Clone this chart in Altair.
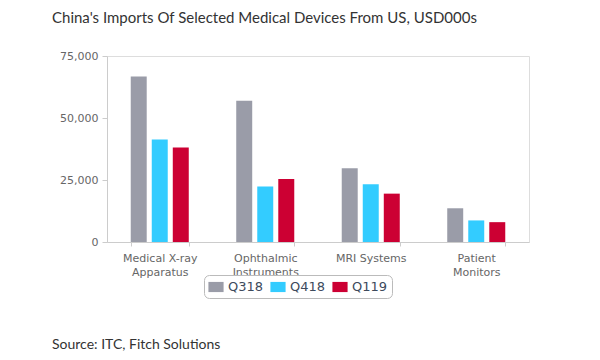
import altair as alt
import pandas as pd

categories = ["Medical X-ray\nApparatus", "Ophthalmic\nInstruments", "MRI Systems", "Patient\nMonitors"]
series = ["Q318", "Q418", "Q119"]
q318 = [66700, 57000, 29700, 13600]
q418 = [41300, 22400, 23300, 8700]
q119 = [38100, 25400, 19500, 8000]
colors = ["#9a9ca8", "#33ccff", "#cc0033"]
y_ticks = [0, 25000, 50000, 75000]

rows = []
for s, vals in zip(series, [q318, q418, q119]):
    for c, v in zip(categories, vals):
        rows.append({"category": c, "series": s, "value": v})
df = pd.DataFrame(rows)

W, H = 422, 186

bars = alt.Chart(df).mark_bar().encode(
    x=alt.X("category:N", sort=categories, title=None,
            scale=alt.Scale(paddingInner=0.45, paddingOuter=0.225),
            axis=alt.Axis(labelAngle=0, labelExpr="split(datum.label, '\\n')",
                          labelFont="DejaVu Sans", labelFontSize=11, labelColor="#666666",
                          labelPadding=6, labelLineHeight=14, tickBand="extent",
                          domainColor="#cccccc", tickColor="#cccccc", tickSize=4)),
    xOffset=alt.XOffset("series:N", sort=series,
                        scale=alt.Scale(paddingInner=0.24, paddingOuter=0)),
    y=alt.Y("value:Q", title=None,
            scale=alt.Scale(domain=[0, 75000], nice=False),
            axis=alt.Axis(values=y_ticks, format=",.0f", grid=False,
                          labelFont="DejaVu Sans", labelFontSize=11, labelColor="#666666",
                          domainColor="#cccccc", tickColor="#cccccc", tickSize=5,
                          labelPadding=4)),
    color=alt.Color("series:N", sort=series, title=None,
                    scale=alt.Scale(domain=series, range=colors),
                    legend=alt.Legend(orient="none", legendX=97, legendY=219,
                                      direction="horizontal", columns=3,
                                      symbolType="M-1,-0.67 L1,-0.67 L1,0.67 L-1,0.67 Z",
                                      symbolSize=230, symbolStrokeWidth=0,
                                      labelFont="DejaVu Sans", labelFontSize=13,
                                      labelColor="#3d4a5c", columnPadding=6,
                                      labelOffset=4,
                                      padding=4, strokeColor="#bbbbbb",
                                      cornerRadius=5, fillColor="white")),
)

source = alt.Chart(pd.DataFrame({"t": ["Source: ITC, Fitch Solutions"]})).mark_text(
    align="left", baseline="alphabetic", font="Lato", fontSize=14, color="#333333"
).encode(text="t:N", x=alt.value(-55), y=alt.value(293))

chart = alt.layer(bars, source).properties(
    width=W, height=H,
    autosize=alt.AutoSizeParams(type="none"),
    padding={"left": 99, "top": 48, "right": 63, "bottom": 110},
    title=alt.TitleParams("China's Imports Of Selected Medical Devices From US, USD000s",
                          anchor="start", frame="group", dx=-55, offset=24,
                          font="Lato", fontSize=15, fontWeight="normal", color="#333333"),
).configure_view(stroke="#d8d8d8").configure(background="white")

chart.save("out.html", embed_options={"renderer": "svg", "actions": False})
